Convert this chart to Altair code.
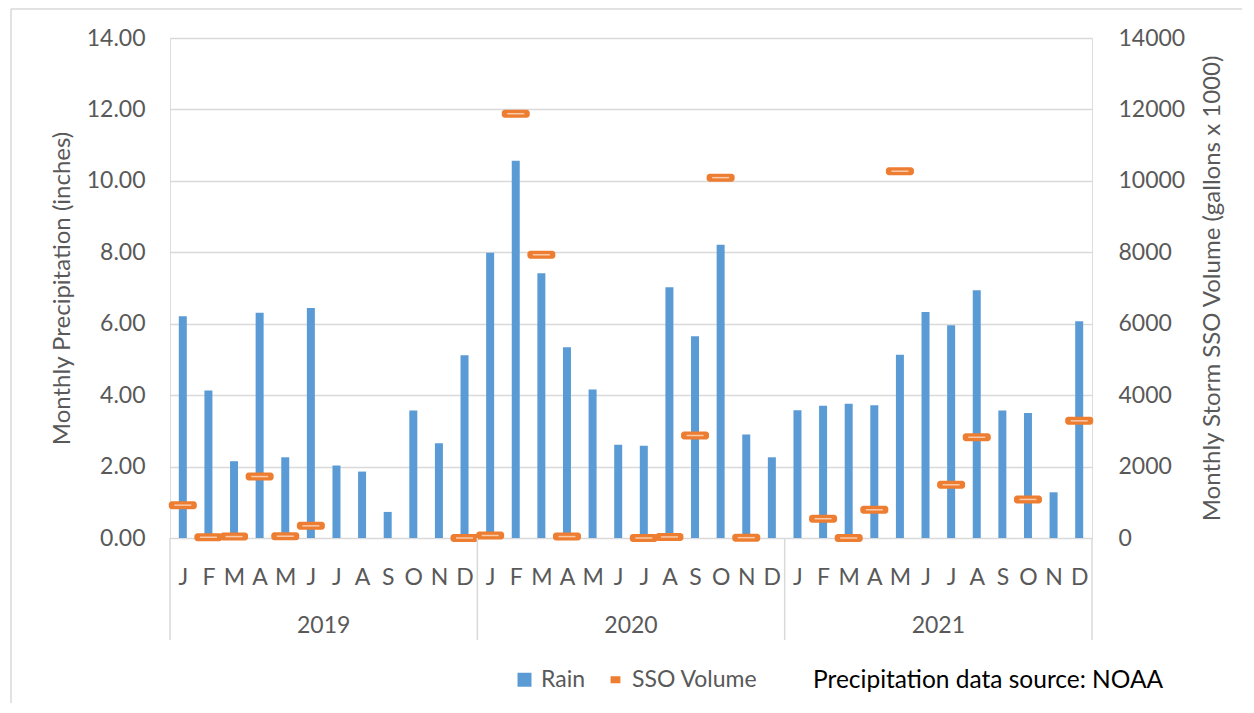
import altair as alt
import pandas as pd
import numpy as np

months = ["J", "F", "M", "A", "M", "J", "J", "A", "S", "O", "N", "D"]
years = ["2019", "2020", "2021"]

rain = [
    6.21, 4.13, 2.15, 6.31, 2.26, 6.44, 2.03, 1.86, 0.73, 3.57, 2.65, 5.12,
    7.99, 10.56, 7.41, 5.34, 4.16, 2.61, 2.58, 7.02, 5.65, 8.21, 2.90, 2.26,
    3.58, 3.70, 3.76, 3.72, 5.13, 6.33, 5.96, 6.94, 3.57, 3.50, 1.28, 6.07,
]

# None = no SSO marker shown that month
sso = [
    920, 20, 40, 1720, 50, 340, None, None, None, None, None, 0,
    70, 11880, 7930, 40, None, None, 0, 30, 2870, 10090, 10, None,
    None, 540, 0, 790, 10270, None, 1490, 2820, None, 1080, None, 3280,
]

BLUE = "#5B9BD5"
ORANGE = "#ED7D31"
GREY = "#595959"
GRID = "#D9D9D9"
FONT = "Lato"
FS = 23

n = len(rain)
df = pd.DataFrame({
    "pos": [i + 0.5 for i in range(n)],
    "month": [months[i % 12] for i in range(n)],
    "year": [years[i // 12] for i in range(n)],
    "rain": rain,
    "sso": [np.nan if v is None else v for v in sso],
})
sso_df = df.dropna(subset=["sso"])

W, H = 922, 500
xscale = alt.Scale(domain=[0, 36], nice=False, zero=False, padding=0)
month_expr = "[" + ",".join(f"'{m}'" for m in months) + "][floor(datum.value) % 12]"


def xaxis():
    return alt.Axis(values=[i + 0.5 for i in range(n)], tickCount=n,
                    labelExpr=month_expr, title=None,
                    grid=False, ticks=False, domain=False, labelFontSize=FS,
                    labelColor=GREY, labelFont=FONT, labelPadding=28,
                    labelFlush=False, labelOverlap=False, labelBound=False)


def xenc(field):
    return alt.X(f"{field}:Q", scale=xscale, title=None, axis=xaxis())


bars = alt.Chart(df).mark_bar(size=8, color=BLUE).encode(
    x=xenc("pos"),
    y=alt.Y("rain:Q", scale=alt.Scale(domain=[0, 14], nice=False),
            title="Monthly Precipitation (inches)",
            axis=alt.Axis(values=list(range(0, 15, 2)), format=".2f",
                          grid=True, gridColor=GRID, gridWidth=1.5,
                          ticks=False, domain=False, labelFontSize=FS,
                          labelColor=GREY, labelFont=FONT, labelPadding=25,
                          titleFontSize=24, titleColor=GREY, titleFont=FONT,
                          titleFontWeight="normal", titlePadding=12)),
)

sso_y = alt.Y("sso:Q", scale=alt.Scale(domain=[0, 14000], nice=False),
              title="Monthly Storm SSO Volume (gallons x 1000)",
              axis=alt.Axis(orient="right", values=list(range(0, 14001, 2000)),
                            format="d", grid=False, ticks=False, domain=False,
                            labelFontSize=FS, labelColor=GREY, labelFont=FONT,
                            labelPadding=26, titleFontSize=24, titleColor=GREY,
                            titleFont=FONT, titleFontWeight="normal",
                            titleAngle=270, titlePadding=40))

sso_outer = alt.Chart(sso_df).mark_tick(
    orient="horizontal", size=28, thickness=8, color=ORANGE, cornerRadius=3,
    opacity=1,
).encode(x=xenc("pos"), y=sso_y)

sso_inner = alt.Chart(sso_df).mark_tick(
    orient="horizontal", size=17, thickness=1.5, color="#F8CBAD", opacity=1,
).encode(x=xenc("pos"), y=alt.Y("sso:Q"))

main = alt.layer(bars, alt.layer(sso_outer, sso_inner)).resolve_scale(y="independent")

sep_df = pd.DataFrame({"b": [0, 12, 24, 36]})
seps = alt.Chart(sep_df).mark_rule(color=GRID, strokeWidth=1.5).encode(
    x=xenc("b"),
    y=alt.value(H), y2=alt.value(H + 102),
)

yr_df = pd.DataFrame({"c": [6, 18, 30], "year": years})
year_text = alt.Chart(yr_df).mark_text(
    fontSize=FS, color=GREY, font=FONT, baseline="middle",
).encode(x=xenc("c"), y=alt.value(H + 88), text="year:N")

note = alt.Chart(pd.DataFrame({"t": ["Precipitation data source: NOAA"]})).mark_text(
    fontSize=24.5, color="#000000", font=FONT, align="left", baseline="middle",
).encode(x=alt.value(643), y=alt.value(H + 143), text="t:N")

# light frame around the figure (decoration)
frame_top = alt.Chart(pd.DataFrame({"k": ["top"]})).mark_rule(
    color=GRID, strokeWidth=1.5).encode(
    x=alt.value(-159), x2=alt.value(W + 200), y=alt.value(-29))
frame_left = alt.Chart(pd.DataFrame({"k": ["left"]})).mark_rule(
    color=GRID, strokeWidth=1.5).encode(
    x=alt.value(-159), y=alt.value(-29), y2=alt.value(H + 200))

series = ["Rain", "SSO Volume"]
leg_df = pd.DataFrame({"series": series})
dash = "M-0.7,-0.5H0.7V0.5H-0.7Z"
legend = alt.Legend(orient="none", legendX=343, legendY=H + 130,
                    direction="horizontal", title=None, labelFontSize=FS,
                    labelColor=GREY, labelFont=FONT, symbolSize=196,
                    symbolOpacity=1, columnPadding=18, labelOffset=5,
                    symbolStrokeWidth=0)
leg_layer = alt.Chart(leg_df).mark_point(filled=True, opacity=0).encode(
    x=alt.value(0), y=alt.value(0),
    color=alt.Color("series:N", scale=alt.Scale(domain=series, range=[BLUE, ORANGE]),
                    legend=legend),
    shape=alt.Shape("series:N", scale=alt.Scale(domain=series, range=["square", dash]),
                    legend=legend),
)

chart = alt.layer(main, seps, year_text, note, frame_top, frame_left, leg_layer).properties(
    width=W, height=H,
    autosize=alt.AutoSizeParams(type="none"),
    padding={"left": 162, "top": 30, "right": 150, "bottom": 165},
).configure_view(stroke=None).configure(background="white")

chart.save("out.html", embed_options={"renderer": "svg", "actions": False})
